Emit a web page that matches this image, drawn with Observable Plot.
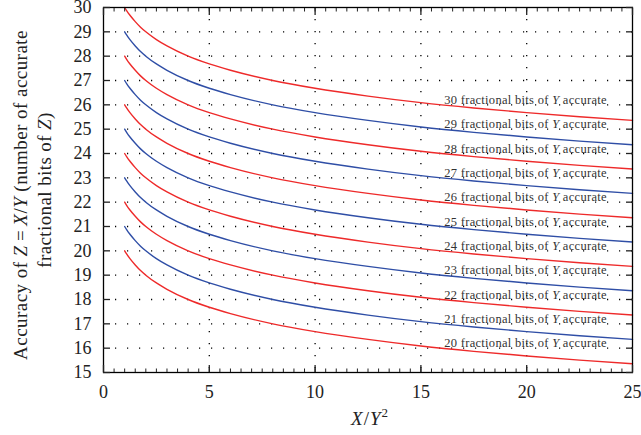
<!DOCTYPE html>
<html>
<head>
<meta charset="utf-8">
<script src="https://cdn.jsdelivr.net/npm/d3@7"></script>
<script src="https://cdn.jsdelivr.net/npm/@observablehq/plot@0.6"></script>
<style>
  html, body { margin: 0; padding: 0; background: #fff; }
</style>
</head>
<body>
<div id="chart"></div>
<script>
// X/Y^2 sample positions
const xs = [1, 1.1, 1.25, 1.5, 1.75, 2, 2.5, 3, 4, 5, 6, 8, 10, 12.5, 15, 17.5, 20, 22.5, 25];

// Accuracy (fractional bits of Z)
const s30 = [30, 29.86, 29.68, 29.42, 29.19, 29, 28.68, 28.42, 28, 27.68, 27.42, 27, 26.68, 26.36, 26.09, 25.87, 25.68, 25.51, 25.36];
const s29 = [29, 28.86, 28.68, 28.42, 28.19, 28, 27.68, 27.42, 27, 26.68, 26.42, 26, 25.68, 25.36, 25.09, 24.87, 24.68, 24.51, 24.36];
const s28 = [28, 27.86, 27.68, 27.42, 27.19, 27, 26.68, 26.42, 26, 25.68, 25.42, 25, 24.68, 24.36, 24.09, 23.87, 23.68, 23.51, 23.36];
const s27 = [27, 26.86, 26.68, 26.42, 26.19, 26, 25.68, 25.42, 25, 24.68, 24.42, 24, 23.68, 23.36, 23.09, 22.87, 22.68, 22.51, 22.36];
const s26 = [26, 25.86, 25.68, 25.42, 25.19, 25, 24.68, 24.42, 24, 23.68, 23.42, 23, 22.68, 22.36, 22.09, 21.87, 21.68, 21.51, 21.36];
const s25 = [25, 24.86, 24.68, 24.42, 24.19, 24, 23.68, 23.42, 23, 22.68, 22.42, 22, 21.68, 21.36, 21.09, 20.87, 20.68, 20.51, 20.36];
const s24 = [24, 23.86, 23.68, 23.42, 23.19, 23, 22.68, 22.42, 22, 21.68, 21.42, 21, 20.68, 20.36, 20.09, 19.87, 19.68, 19.51, 19.36];
const s23 = [23, 22.86, 22.68, 22.42, 22.19, 22, 21.68, 21.42, 21, 20.68, 20.42, 20, 19.68, 19.36, 19.09, 18.87, 18.68, 18.51, 18.36];
const s22 = [22, 21.86, 21.68, 21.42, 21.19, 21, 20.68, 20.42, 20, 19.68, 19.42, 19, 18.68, 18.36, 18.09, 17.87, 17.68, 17.51, 17.36];
const s21 = [21, 20.86, 20.68, 20.42, 20.19, 20, 19.68, 19.42, 19, 18.68, 18.42, 18, 17.68, 17.36, 17.09, 16.87, 16.68, 16.51, 16.36];
const s20 = [20, 19.86, 19.68, 19.42, 19.19, 19, 18.68, 18.42, 18, 17.68, 17.42, 17, 16.68, 16.36, 16.09, 15.87, 15.68, 15.51, 15.36];

const seriesBits = [30, 29, 28, 27, 26, 25, 24, 23, 22, 21, 20];
const seriesVals = [s30, s29, s28, s27, s26, s25, s24, s23, s22, s21, s20];

// tick values
const xMajor = [0, 5, 10, 15, 20, 25];
const xMinor = d3.range(0, 25.01, 0.5);
const yMajor = [15, 16, 17, 18, 19, 20, 21, 22, 23, 24, 25, 26, 27, 28, 29, 30];
const xGrid = [5, 10, 15, 20];
const yGrid = [16, 17, 18, 19, 20, 21, 22, 23, 24, 25, 26, 27, 28, 29];

const RED = "#ee2a2a";
const BLUE = "#2f4ea6";

const rows = [];
seriesBits.forEach((b, i) => {
  seriesVals[i].forEach((v, j) => rows.push({bits: b, x: xs[j], y: v}));
});
const labelRows = seriesBits.map(b => ({bits: b, label: `${b} fractional bits of Y accurate`}));

const FONT = "'Liberation Serif', serif";

const chart = Plot.plot({
  width: 641,
  height: 435,
  marginLeft: 103,
  marginRight: 9,
  marginTop: 7,
  marginBottom: 63,
  x: {domain: [0, 25]},
  y: {domain: [15, 30]},
  style: {fontFamily: FONT, fontSize: "18px", color: "#222", background: "#fff"},
  marks: [
    Plot.ruleY(yGrid, {y: d => d, x1: 0, x2: 25, stroke: "#000", strokeWidth: 1.3, strokeDasharray: "1.2,10.8"}),
    Plot.ruleX(xGrid, {x: d => d, y1: 30, y2: 15, stroke: "#000", strokeWidth: 1.3, strokeDasharray: "1.2,10.8"}),
    Plot.text(labelRows, {x: () => 16.1, y: d => d.bits - 3.8, text: "label", textAnchor: "start", fontSize: 12.5, fill: "#333"}),
    Plot.line(rows.filter(d => d.bits % 2 === 0), {x: "x", y: "y", z: "bits", stroke: RED, strokeWidth: 1.4, curve: "monotone-x"}),
    Plot.line(rows.filter(d => d.bits % 2 === 1), {x: "x", y: "y", z: "bits", stroke: BLUE, strokeWidth: 1.4, curve: "monotone-x"}),
    Plot.frame({stroke: "#000", strokeWidth: 1.3}),
    // inward tick marks
    Plot.axisX(xMinor, {anchor: "bottom", tickSize: -3.5, text: null, label: null, strokeWidth: 1}),
    Plot.axisX(xMinor, {anchor: "top", tickSize: -3.5, text: null, label: null, strokeWidth: 1}),
    Plot.axisX(xMajor, {anchor: "bottom", tickSize: -7, text: null, label: null, strokeWidth: 1.3}),
    Plot.axisX(xMajor, {anchor: "top", tickSize: -7, text: null, label: null, strokeWidth: 1.3}),
    Plot.axisY(yMajor, {anchor: "left", tickSize: -7, text: null, label: null, strokeWidth: 1.3}),
    Plot.axisY(yMajor, {anchor: "right", tickSize: -7, text: null, label: null, strokeWidth: 1.3}),
    // tick labels
    Plot.axisX(xMajor, {anchor: "bottom", tickSize: 0, tickPadding: 13, label: null, fontSize: 18, fill: "#222"}),
    Plot.axisY(yMajor, {anchor: "left", tickSize: 0, tickPadding: 12, label: null, fontSize: 18, fill: "#222"})
  ]
});

document.getElementById("chart").appendChild(chart);
const svg = d3.select(chart);

svg.selectAll("text").each(function() {
  const t = d3.select(this);
  const s = t.text();
  // the top tick label sits slightly lower, as in the reference
  if (s === "30" && this.getAttribute("text-anchor") === "end") {
    t.attr("dy", "0.42em");
  }
  // italic Y inside curve labels
  const m = s.match(/^(\d+) fractional bits of Y accurate$/);
  if (m) {
    t.text(null);
    t.style("letter-spacing", "0.3px");
    t.append("tspan").text(`${m[1]} fractional bits of `);
    t.append("tspan").style("font-style", "italic").text("Y");
    t.append("tspan").text(" accurate");
  }
});

function rich(sel, parts) {
  parts.forEach(([txt, it]) => {
    const ts = sel.append("tspan").text(txt);
    if (it) ts.style("font-style", "italic");
  });
}

const titles = svg.append("g").style("font-size", "19px").style("fill", "#222");
const l1 = titles.append("text").attr("text-anchor", "middle").style("letter-spacing", "0.45px")
  .attr("transform", "translate(27,195) rotate(-90)");
rich(l1, [["Accuracy of ", false], ["Z", true], ["\u2009=\u2009", false], ["X", true], ["/", false], ["Y", true], [" (number of accurate", false]]);
const l2 = titles.append("text").attr("text-anchor", "middle").style("letter-spacing", "0.4px")
  .attr("transform", "translate(51,190) rotate(-90)");
rich(l2, [["fractional bits of ", false], ["Z", true], [")", false]]);

const xt = titles.append("text").attr("text-anchor", "middle").attr("x", 370).attr("y", 425).style("letter-spacing", "1px");
rich(xt, [["X", true], ["/", false], ["Y", true]]);
xt.append("tspan").style("font-size", "13px").attr("dy", -8).text("2");

// force the serif family on every text
svg.style("font-family", FONT);
svg.selectAll("text, tspan").style("font-family", FONT);
</script>
</body>
</html>
